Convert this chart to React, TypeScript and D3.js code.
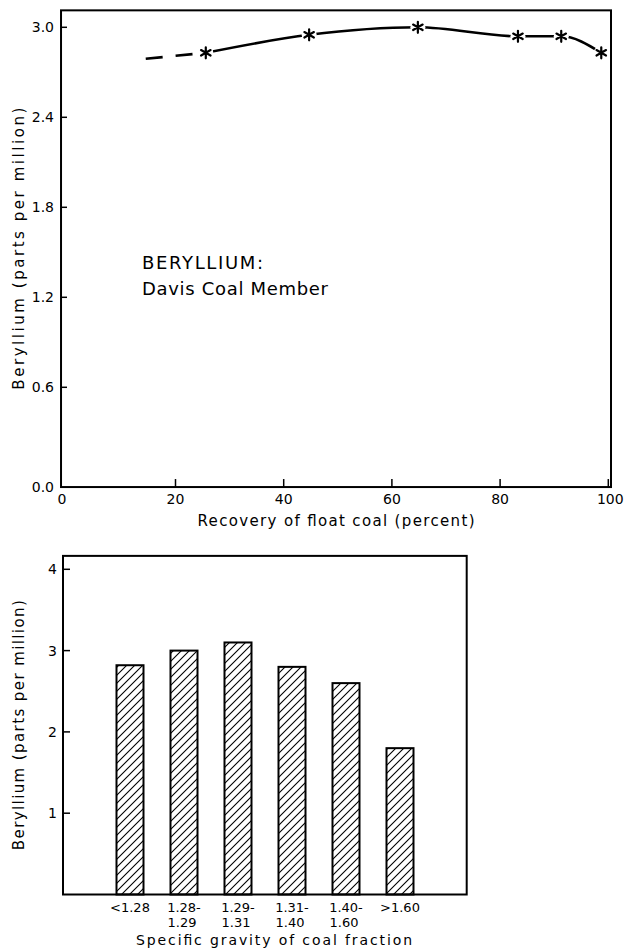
import React from 'react';
import * as d3 from 'd3';

// top panel: beryllium vs recovery of float coal
const recoveryPct = [25.6, 44.7, 64.8, 83.3, 91.3, 98.7];
const berylliumPpm = [2.83, 2.95, 3.0, 2.94, 2.94, 2.83];
const leadRecovery = [14.5, 25.6];
const leadPpm = [2.79, 2.83];
const recoveryTicks = [0, 20, 40, 60, 80, 100];
const topPpmTicks = [0, 0.6, 1.2, 1.8, 2.4, 3.0];

// bottom panel: beryllium by specific gravity fraction
const fractionTop = ['<1.28', '1.28-', '1.29-', '1.31-', '1.40-', '>1.60'];
const fractionBottom = ['', '1.29', '1.31', '1.40', '1.60', ''];
const fractionPpm = [2.82, 3.0, 3.1, 2.8, 2.6, 1.8];
const bottomPpmTicks = [1, 2, 3, 4];

const W = 624;
const H = 949;
const FONT = 'DejaVu Sans, sans-serif';

const Star: React.FC<{ cx: number; cy: number }> = ({ cx, cy }) => {
  const r = 5.5;
  const arms = [90, 30, -30].map(a => {
    const t = (a * Math.PI) / 180;
    return `M${cx - r * Math.cos(t)},${cy - r * Math.sin(t)}L${cx + r * Math.cos(t)},${cy + r * Math.sin(t)}`;
  });
  return (
    <g>
      <circle cx={cx} cy={cy} r={7.5} fill="#fff" />
      <path d={arms.join('')} stroke="#000" strokeWidth={2.2} strokeLinecap="round" />
    </g>
  );
};

const App: React.FC = () => {
  // ---- top panel scales
  const x = d3.scaleLinear().domain([0, 100]).range([67.3, 608.3]);
  const y = d3.scaleLinear().domain([0, 3]).range([477.3, 27.3]);
  const frameL = x(-1.16);
  const frameR = x(100.5);
  const frameT = y(3.113);
  const frameB = y(-0.065);

  const pts = recoveryPct.map((v, i) => [v, berylliumPpm[i]] as [number, number]);
  const lead = leadRecovery.map((v, i) => [v, leadPpm[i]] as [number, number]);
  const line = d3.line<[number, number]>()
    .x(d => x(d[0]))
    .y(d => y(d[1]))
    .curve(d3.curveMonotoneX);

  // ---- bottom panel scales
  const bx = d3.scaleBand<string>()
    .domain(fractionTop)
    .range([103, 427])
    .paddingInner(0.5)
    .paddingOuter(0.25);
  const by = d3.scaleLinear().domain([0, 4]).range([894.5, 569.3]);
  const bL = 63;
  const bR = 466.7;
  const bT = by(4.165);
  const bB = by(0);

  return (
    <svg width={W} height={H} style={{ position: 'absolute', left: 0, top: 0, background: '#fff' }}
      fontFamily={FONT}>
      <defs>
        <pattern id="hatch" patternUnits="userSpaceOnUse" width={8} height={8}>
          <rect width={8} height={8} fill="#fff" />
          <path d="M0,8L8,0M-2,2L2,-2M6,10L10,6" stroke="#000" strokeWidth={1.1} />
        </pattern>
      </defs>

      {/* ================= top panel ================= */}
      <rect x={frameL} y={frameT} width={frameR - frameL} height={frameB - frameT}
        fill="none" stroke="#000" strokeWidth={2} />

      {topPpmTicks.map(t => (
        <g key={`ty${t}`}>
          {t > 0 && <line x1={frameL} x2={frameL + 6} y1={y(t)} y2={y(t)} stroke="#000" strokeWidth={1.5} />}
          <text x={54} y={t > 0 ? y(t) : frameB} dy="0.36em" textAnchor="end" fontSize={14}>
            {t.toFixed(1)}
          </text>
        </g>
      ))}

      {recoveryTicks.map(t => (
        <g key={`tx${t}`}>
          {t > 0 && <line x1={x(t)} x2={x(t)} y1={frameB} y2={frameB - 8} stroke="#000" strokeWidth={1.5} />}
          <text x={t === 0 ? frameL + 1 : x(t) + (t === 100 ? 2 : 0)} y={frameB + 12} dy="0.36em"
            textAnchor="middle" fontSize={14}>
            {t}
          </text>
        </g>
      ))}

      <text x={(frameL + frameR) / 2} y={frameB + 34} dy="0.36em" textAnchor="middle" fontSize={15}
        textLength={277} lengthAdjust="spacing">
        Recovery of float coal (percent)
      </text>
      <text transform={`translate(19,${(frameT + frameB) / 2}) rotate(-90)`} dy="0.36em" textAnchor="middle"
        fontSize={15} textLength={282} lengthAdjust="spacing">
        Beryllium (parts per million)
      </text>

      <text x={142} y={269} fontSize={18} textLength={121} lengthAdjust="spacing">BERYLLIUM:</text>
      <text x={142} y={295} fontSize={18} textLength={186} lengthAdjust="spacing">Davis Coal Member</text>

      <path d={line(lead) ?? ''} fill="none" stroke="#000" strokeWidth={2.6} strokeDasharray="17 13" />
      <path d={line(pts) ?? ''} fill="none" stroke="#000" strokeWidth={2.6} />
      {pts.map((p, i) => <Star key={i} cx={x(p[0])} cy={y(p[1])} />)}

      {/* ================= bottom panel ================= */}
      {fractionTop.map((c, i) => (
        <rect key={c} x={bx(c)} y={by(fractionPpm[i])} width={bx.bandwidth()}
          height={by(0) - by(fractionPpm[i])} fill="url(#hatch)" stroke="#000" strokeWidth={2} />
      ))}

      <rect x={bL} y={bT} width={bR - bL} height={bB - bT} fill="none" stroke="#000" strokeWidth={2} />

      {bottomPpmTicks.map(t => (
        <g key={`by${t}`}>
          <line x1={bL} x2={bL + 7} y1={by(t)} y2={by(t)} stroke="#000" strokeWidth={1.5} />
          <text x={57} y={by(t)} dy="0.36em" textAnchor="end" fontSize={14}>{t}</text>
        </g>
      ))}

      {fractionTop.map((c, i) => (
        <g key={`bl${c}`}>
          <text x={(bx(c) ?? 0) + bx.bandwidth() / 2} y={bB + 13} dy="0.36em" textAnchor="middle" fontSize={13}>
            {c}
          </text>
          {fractionBottom[i] && (
            <text x={(bx(c) ?? 0) + bx.bandwidth() / 2 - 2} y={bB + 28} dy="0.36em" textAnchor="middle" fontSize={13}>
              {fractionBottom[i]}
            </text>
          )}
        </g>
      ))}

      <text x={274} y={H - 4} textAnchor="middle" fontSize={14}
        textLength={276} lengthAdjust="spacing">
        Specific gravity of coal fraction
      </text>
      <text transform={`translate(19,${(bT + bB) / 2}) rotate(-90)`} dy="0.36em" textAnchor="middle"
        fontSize={15} textLength={250} lengthAdjust="spacing">
        Beryllium (parts per million)
      </text>
    </svg>
  );
};

export default App;
